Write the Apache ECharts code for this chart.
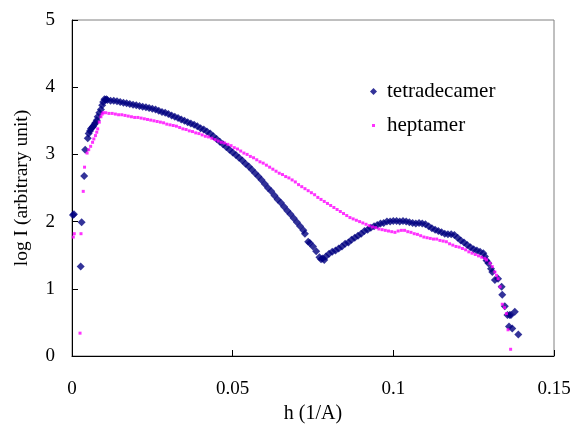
<!DOCTYPE html>
<html>
<head>
<meta charset="utf-8">
<script src="https://cdn.jsdelivr.net/npm/echarts@6/dist/echarts.min.js"></script>
<style>html,body{margin:0;padding:0;background:#fff}#c{width:575px;height:434px}</style>
</head>
<body>
<div id="c"></div>
<script>
const xTicks = [0, 0.05, 0.1, 0.15];
const yTicks = [0, 1, 2, 3, 4, 5];

const tetraX = [0.0003,0.0006,0.0027,0.003,0.0038,0.0041,0.0049,0.0052,0.0056,0.0059,0.0063,0.0066,0.007,0.0073,0.0077,0.008,0.0085,0.009,0.0094,0.0097,0.0101,0.0104,0.0107,
0.011,0.012,0.013,0.014,0.015,0.016,0.017,0.018,0.019,0.020,0.021,0.022,0.023,0.024,0.025,0.026,0.027,0.028,0.029,0.030,0.031,0.032,0.033,0.034,0.035,0.036,0.037,0.038,0.039,0.040,
0.041,0.042,0.043,0.044,0.045,0.046,0.047,0.048,0.049,0.050,0.051,0.052,0.053,0.054,0.055,0.056,0.057,0.058,0.059,0.060,0.061,0.062,0.063,0.064,0.065,0.066,0.067,0.068,0.069,0.070,
0.071,0.072,0.0725,0.0735,0.074,0.075,0.076,0.077,0.0775,0.078,0.0785,0.079,0.080,0.081,0.082,0.083,0.084,0.085,0.086,0.087,0.088,0.089,0.090,0.091,0.092,0.093,0.094,0.095,0.096,
0.097,0.098,0.099,0.100,0.101,0.102,0.103,0.104,0.105,0.106,0.107,0.108,0.109,0.110,0.111,0.112,0.113,0.114,0.115,0.116,0.117,0.118,0.119,0.120,0.121,0.122,0.123,0.124,0.125,0.126,
0.127,0.128,0.1285,0.129,0.1296,0.1304,0.1308,0.1316,0.1326,0.1337,0.1339,0.1347,0.1355,0.1362,0.1366,0.1378,0.1360,0.1370,0.1389];
const tetraY = [2.10,2.11,1.33,1.99,2.68,3.07,3.24,3.31,3.35,3.38,3.40,3.42,3.45,3.47,3.51,3.56,3.62,3.67,3.73,3.78,3.82,3.81,3.82,
3.81,3.80,3.80,3.79,3.78,3.77,3.76,3.75,3.74,3.73,3.72,3.71,3.70,3.69,3.68,3.67,3.65,3.63,3.62,3.60,3.58,3.56,3.54,3.52,3.50,3.48,3.46,3.44,3.42,3.39,
3.37,3.34,3.31,3.27,3.23,3.19,3.15,3.11,3.07,3.03,2.99,2.95,2.91,2.86,2.82,2.77,2.72,2.67,2.62,2.56,2.50,2.45,2.39,2.33,2.28,2.22,2.16,2.11,2.05,1.99,
1.93,1.87,1.82,1.70,1.68,1.63,1.56,1.47,1.44,1.45,1.43,1.48,1.52,1.55,1.57,1.60,1.63,1.67,1.69,1.73,1.76,1.79,1.82,1.86,1.88,1.91,1.93,1.95,1.97,
1.98,2.00,2.00,2.01,2.01,2.00,2.01,2.00,1.99,1.98,1.97,1.98,1.97,1.96,1.93,1.90,1.88,1.86,1.84,1.82,1.81,1.81,1.80,1.76,1.72,1.69,1.65,1.62,1.59,1.57,
1.55,1.53,1.48,1.42,1.38,1.30,1.25,1.13,1.15,1.03,0.91,0.74,0.61,0.61,0.61,0.66,0.44,0.41,0.32];

const heptX = [0.0004,0.0007,0.0025,0.0028,0.0035,0.0039,0.0047,0.0052,0.0058,0.0064,0.0068,0.0073,0.0077,0.008,0.0085,0.009,0.0094,0.0097,
0.0105,0.0115,0.0125,0.0135,0.0145,0.0155,0.0165,0.0175,0.0185,0.0195,0.0205,0.0215,0.0225,0.0235,0.0245,0.0255,0.0265,0.0275,0.0285,0.0295,0.0305,0.0315,0.0325,0.0335,0.0345,0.0355,
0.0365,0.0375,0.0385,0.0395,0.0405,0.0415,0.0425,0.0435,0.0445,0.0455,0.0465,0.0475,0.0485,0.0495,0.0505,0.0515,0.0525,0.0535,0.0545,0.0555,0.0565,0.0575,0.0585,0.0595,0.0605,0.0615,
0.0625,0.0635,0.0645,0.0655,0.0665,0.0675,0.0685,0.0695,0.0705,0.0715,0.0725,0.0735,0.0745,0.0755,0.0765,0.0775,0.0785,0.0795,0.0805,0.0815,0.0825,0.0835,0.0845,0.0855,0.0865,0.0875,
0.0885,0.0895,0.0905,0.0915,0.0925,0.0935,0.0945,0.0955,0.0965,0.0975,0.0985,0.0995,0.1005,0.1015,0.1025,0.1035,0.1045,0.1055,0.1065,0.1075,0.1085,0.1095,0.1105,0.1115,0.1125,0.1135,
0.1145,0.1155,0.1165,0.1175,0.1185,0.1195,0.1205,0.1215,0.1225,0.1235,0.1245,0.1255,0.1265,0.1275,0.1285,0.129,0.1301,0.1308,0.1316,0.1321,0.1326,0.1332,0.1339,0.1346,0.1352,0.1357,0.1365];
const heptY = [1.77,1.82,0.34,1.82,2.45,2.81,3.02,3.07,3.12,3.18,3.23,3.28,3.33,3.38,3.48,3.56,3.60,3.62,
3.62,3.61,3.61,3.60,3.59,3.59,3.58,3.57,3.56,3.55,3.55,3.54,3.53,3.52,3.51,3.50,3.49,3.48,3.47,3.45,3.44,3.43,3.42,3.40,3.38,3.37,
3.35,3.34,3.32,3.31,3.29,3.27,3.26,3.24,3.22,3.20,3.18,3.17,3.15,3.13,3.10,3.08,3.05,3.02,3.00,2.97,2.95,2.92,2.89,2.87,2.84,2.81,
2.78,2.75,2.72,2.70,2.67,2.65,2.62,2.59,2.55,2.52,2.49,2.46,2.43,2.40,2.36,2.33,2.30,2.27,2.24,2.21,2.18,2.15,2.12,2.09,2.06,2.04,
2.02,2.00,1.98,1.96,1.94,1.92,1.91,1.89,1.88,1.87,1.86,1.85,1.84,1.86,1.87,1.87,1.85,1.84,1.82,1.81,1.79,1.77,1.76,1.75,1.74,1.74,
1.72,1.71,1.70,1.67,1.65,1.63,1.62,1.60,1.58,1.55,1.53,1.51,1.49,1.47,1.45,1.43,1.38,1.33,1.25,1.20,1.15,1.03,0.77,0.72,0.63,0.39,0.10];

const zip = (xs, ys) => xs.map((x, i) => [x, ys[i]]);
const FONT = "'Liberation Serif','Times New Roman',serif";

const chart = echarts.init(document.getElementById('c'), null, {renderer: 'canvas'});
chart.setOption({
  animation: false,
  backgroundColor: '#fff',
  textStyle: {fontFamily: FONT, color: '#000'},
  grid: {left: 72, right: 21, top: 20, bottom: 78, show: true, borderColor: '#808080', borderWidth: 1},
  legend: [
    {data: [{name: 'tetradecamer', icon: 'diamond'}], orient: 'vertical', left: 365, top: 76, itemWidth: 7, itemHeight: 7,
     textStyle: {fontFamily: FONT, fontSize: 21, color: '#000', padding: [0, 0, 0, 5]}},
    {data: [{name: 'heptamer', icon: 'rect'}], orient: 'vertical', left: 367, top: 110, itemWidth: 3, itemHeight: 3,
     textStyle: {fontFamily: FONT, fontSize: 21, color: '#000', padding: [0, 0, 0, 7]}}
  ],
  xAxis: {
    type: 'value', min: xTicks[0], max: xTicks[xTicks.length - 1], interval: 0.05,
    name: 'h (1/A)', nameLocation: 'middle', nameGap: 45,
    nameTextStyle: {fontFamily: FONT, fontSize: 20, color: '#000'},
    axisLine: {show: true, lineStyle: {color: '#000', width: 1}},
    axisTick: {show: true, inside: true, length: 6, lineStyle: {color: '#000'}},
    axisLabel: {fontFamily: FONT, fontSize: 19, color: '#000', margin: 24},
    splitLine: {show: false}
  },
  yAxis: {
    type: 'value', min: yTicks[0], max: yTicks[yTicks.length - 1], interval: 1,
    name: 'log I (arbitrary unit)', nameLocation: 'middle', nameGap: 40, nameRotate: 90,
    nameTextStyle: {fontFamily: FONT, fontSize: 19.5, color: '#000'},
    axisLine: {show: true, lineStyle: {color: '#000', width: 1}},
    axisTick: {show: true, inside: true, length: 6, lineStyle: {color: '#000'}},
    axisLabel: {fontFamily: FONT, fontSize: 19, color: '#000', margin: 17},
    splitLine: {show: false}
  },
  series: [
    {name: 'tetradecamer', type: 'scatter', symbol: 'diamond', symbolSize: 8,
     itemStyle: {color: '#000080'}, data: zip(tetraX, tetraY), z: 3},
    {name: 'heptamer', type: 'scatter', symbol: 'rect', symbolSize: 3,
     itemStyle: {color: '#FF00FF'}, data: zip(heptX, heptY), z: 4}
  ]
});
</script>
</body>
</html>
